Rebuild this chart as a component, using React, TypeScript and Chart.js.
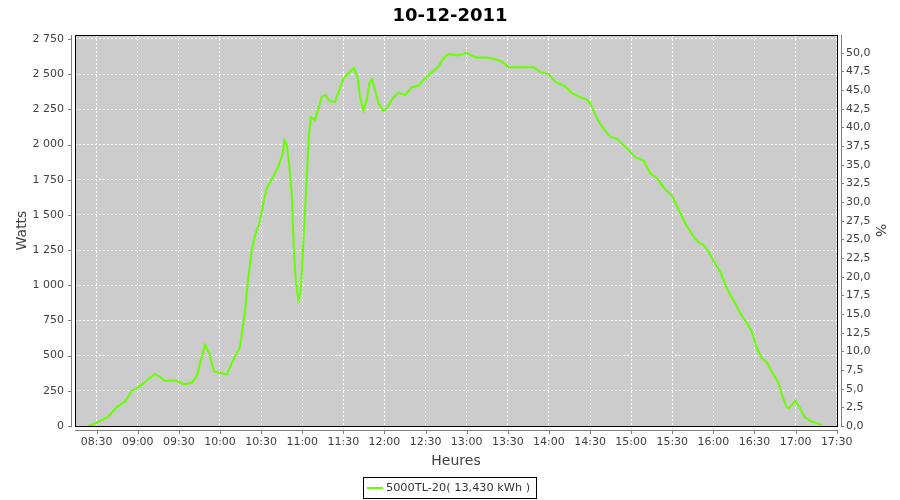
import React, { useEffect, useRef } from 'react';
import { Chart, registerables } from 'chart.js';

Chart.register(...registerables);

const chartTitle = '10-12-2011';
const seriesLabel = '5000TL-20( 13,430 kWh )';
const xAxisTitle = 'Heures';
const leftAxisTitle = 'Watts';
const rightAxisTitle = '%';
const seriesColor = '#66FF00';

const xTickLabels = ['08:30', '09:00', '09:30', '10:00', '10:30', '11:00', '11:30', '12:00', '12:30', '13:00', '13:30', '14:00', '14:30', '15:00', '15:30', '16:00', '16:30', '17:00', '17:30'];
const wattTicks = [0, 250, 500, 750, 1000, 1250, 1500, 1750, 2000, 2250, 2500, 2750];
const percentTicks = [0, 2.5, 5, 7.5, 10, 12.5, 15, 17.5, 20, 22.5, 25, 27.5, 30, 32.5, 35, 37.5, 40, 42.5, 45, 47.5, 50];

const xRange = [494.2, 1050.2];
const wattRange = [0, 2778];
const percentRange = [0, 52.37];

// sample times in minutes after midnight
const sampleMinutes = [
  503.9, 510.0, 518.5, 524.6, 530.7, 535.6, 540.4, 547.0, 552.6, 556.2,
  559.9, 567.2, 574.5, 579.4, 583.0, 586.7, 589.1, 592.2, 595.6, 599.5,
  604.9, 609.7, 614.6, 618.3, 620.7, 623.2, 625.6, 628.7, 631.6, 634.1,
  638.9, 642.6, 645.8, 647.0, 648.8, 650.7, 652.4, 653.1, 654.0, 655.5,
  657.2, 658.9, 660.4, 662.1, 663.3, 665.0, 666.3, 669.4, 671.8, 674.3,
  676.7, 680.4, 684.0, 687.1, 690.1, 695.0, 697.8, 700.2, 702.2, 704.6,
  707.1, 709.0, 710.8, 713.2, 715.6, 718.8, 721.7, 726.1, 730.2, 735.1,
  740.0, 744.8, 749.7, 754.6, 759.4, 763.1, 766.7, 772.8, 777.7, 780.2,
  783.8, 787.4, 794.7, 800.8, 805.7, 810.5, 828.8, 833.7, 839.8, 844.6,
  852.0, 856.8, 862.9, 867.8, 870.2, 872.6, 875.5, 880.4, 884.8, 889.7,
  895.7, 903.0, 909.1, 914.0, 918.9, 925.0, 929.9, 934.7, 940.8, 946.9,
  949.2, 952.8, 956.5, 959.0, 962.6, 965.0, 968.7, 972.3, 976.0, 979.6,
  984.5, 988.1, 991.8, 995.4, 999.1, 1002.7, 1007.6, 1010.0, 1013.2, 1014.9,
  1017.3, 1019.8, 1023.4, 1026.3, 1030.7, 1035.6, 1039.2,
];
const watts = [
  0, 23, 66, 133, 173, 251, 275, 327, 370, 350,
  320, 325, 296, 308, 350, 493, 576, 517, 386, 379,
  365, 470, 560, 824, 1061, 1251, 1357, 1440, 1583, 1689,
  1772, 1843, 1938, 2030, 2000, 1831, 1642, 1464, 1227, 1014,
  893, 954, 1227, 1535, 1772, 2080, 2194, 2175, 2258, 2340,
  2352, 2305, 2305, 2388, 2471, 2518, 2542, 2483, 2340, 2241,
  2317, 2436, 2464, 2388, 2293, 2241, 2258, 2329, 2369, 2352,
  2407, 2417, 2471, 2514, 2554, 2613, 2644, 2632, 2644, 2653,
  2630, 2618, 2618, 2606, 2589, 2549, 2549, 2514, 2500, 2447,
  2411, 2364, 2336, 2317, 2293, 2241, 2175, 2104, 2056, 2040,
  1985, 1910, 1886, 1796, 1760, 1680, 1636, 1535, 1417, 1327,
  1305, 1286, 1239, 1192, 1132, 1097, 1002, 931, 872, 801,
  730, 670, 552, 481, 450, 386, 303, 220, 137, 125,
  149, 180, 125, 66, 36, 19, 7,
];

const toMinutes = (s: string) => {
  const [h, m] = s.split(':').map(Number);
  return h * 60 + m;
};
const fmtTime = (v: number) => {
  const h = Math.floor(v / 60);
  const m = Math.round(v - h * 60);
  return String(h).padStart(2, '0') + ':' + String(m).padStart(2, '0');
};
const fmtWatts = (v: number) => String(Math.round(v)).replace(/\B(?=(\d{3})+(?!\d))/g, ' ');
const fmtPct = (v: number) => v.toFixed(1).replace('.', ',');

const TICK_FONT = { family: 'DejaVu Sans', size: 11 };
const TEXT_GREY = '#404040';
const AXIS_GREY = '#808080';

const framePlugin = {
  id: 'frame',
  beforeDraw(chart: any) {
    const { ctx, chartArea: a } = chart;
    ctx.save();
    ctx.fillStyle = '#CCCCCC';
    ctx.fillRect(a.left, a.top, a.right - a.left, a.bottom - a.top);
    ctx.restore();
  },
  afterDraw(chart: any) {
    const { ctx, chartArea: a, scales } = chart;
    ctx.save();
    // plot border
    ctx.strokeStyle = '#000000';
    ctx.lineWidth = 1;
    ctx.strokeRect(a.left + 0.5, a.top + 0.5, a.right - a.left, a.bottom - a.top);

    // offset axis lines
    ctx.strokeStyle = AXIS_GREY;
    ctx.beginPath();
    ctx.moveTo(a.left - 3.5, a.top);
    ctx.lineTo(a.left - 3.5, a.bottom + 1);
    ctx.moveTo(a.right + 4.5, a.top);
    ctx.lineTo(a.right + 4.5, a.bottom + 1);
    ctx.moveTo(a.left, a.bottom + 4.5);
    ctx.lineTo(a.right + 1, a.bottom + 4.5);
    // tick marks
    scales.y.ticks.forEach((t: any) => {
      const p = Math.round(scales.y.getPixelForValue(t.value)) + 0.5;
      ctx.moveTo(a.left - 7, p);
      ctx.lineTo(a.left - 3.5, p);
    });
    scales.y2.ticks.forEach((t: any) => {
      const p = Math.round(scales.y2.getPixelForValue(t.value)) + 0.5;
      ctx.moveTo(a.right + 4.5, p);
      ctx.lineTo(a.right + 7, p);
    });
    scales.x.ticks.forEach((t: any) => {
      const p = Math.round(scales.x.getPixelForValue(t.value)) + 0.5;
      ctx.moveTo(p, a.bottom + 4.5);
      ctx.lineTo(p, a.bottom + 8);
    });
    ctx.stroke();

    // chart title
    ctx.fillStyle = '#000000';
    ctx.font = 'bold 18px "DejaVu Sans"';
    ctx.textAlign = 'center';
    ctx.textBaseline = 'alphabetic';
    ctx.fillText(chartTitle, 450, 21);

    // axis titles
    ctx.fillStyle = TEXT_GREY;
    ctx.font = '14px "DejaVu Sans"';
    ctx.fillText(xAxisTitle, (a.left + a.right) / 2, 465);

    ctx.save();
    ctx.translate(26, (a.top + a.bottom) / 2);
    ctx.rotate(-Math.PI / 2);
    ctx.fillText(leftAxisTitle, 0, 0);
    ctx.restore();

    ctx.save();
    ctx.translate(880, (a.top + a.bottom) / 2);
    ctx.rotate(Math.PI / 2);
    ctx.textBaseline = 'middle';
    ctx.fillText(rightAxisTitle, 0, 0);
    ctx.restore();

    // legend
    const ds = chart.data.datasets[0];
    ctx.font = '11.3px "DejaVu Sans"';
    const tw = ctx.measureText(ds.label).width;
    const boxW = 4 + 16 + 3 + tw + 6;
    const boxL = Math.round(450 - boxW / 2);
    const boxT = 477;
    const boxH = 21;
    ctx.strokeStyle = '#000000';
    ctx.strokeRect(boxL + 0.5, boxT + 0.5, Math.round(boxW), boxH);
    ctx.strokeStyle = ds.borderColor;
    ctx.lineWidth = 2;
    ctx.beginPath();
    ctx.moveTo(boxL + 4, boxT + 11);
    ctx.lineTo(boxL + 20, boxT + 11);
    ctx.stroke();
    ctx.fillStyle = '#333333';
    ctx.textAlign = 'left';
    ctx.textBaseline = 'middle';
    ctx.fillText(ds.label, boxL + 23, boxT + 11);
    ctx.restore();
  },
};

export default function App() {
  const ref = useRef<HTMLCanvasElement>(null);
  useEffect(() => {
    document.body.style.margin = '0';
    const canvas = ref.current!;
    const chart = new Chart(canvas, {
      type: 'line',
      data: {
        datasets: [
          {
            label: seriesLabel,
            data: sampleMinutes.map((m, i) => ({ x: m, y: watts[i] })),
            borderColor: seriesColor,
            backgroundColor: seriesColor,
            borderWidth: 2,
            pointRadius: 0,
            tension: 0,
            fill: false,
            xAxisID: 'x',
            yAxisID: 'y',
          },
        ],
      },
      options: {
        animation: false,
        responsive: false,
        devicePixelRatio: 1,
        events: [],
        layout: { padding: { top: 35, left: 0, right: 0, bottom: 0 } },
        plugins: {
          legend: { display: false },
          title: { display: false },
          tooltip: { enabled: false },
        },
        scales: {
          x: {
            type: 'linear',
            position: 'bottom',
            min: xRange[0],
            max: xRange[1],
            afterFit: (s: any) => { s.height = 74; },
            afterBuildTicks: (s: any) => { s.ticks = xTickLabels.map((l) => ({ value: toMinutes(l) })); },
            grid: { color: '#FFFFFF', drawTicks: false, lineWidth: 1 },
            border: { display: false, dash: [2, 2] },
            ticks: {
              padding: 10,
              color: TEXT_GREY,
              font: TICK_FONT,
              maxRotation: 0,
              autoSkip: false,
              callback: (v: any) => fmtTime(Number(v)),
            },
          },
          y: {
            type: 'linear',
            position: 'left',
            min: wattRange[0],
            max: wattRange[1],
            afterFit: (s: any) => { s.width = 75; },
            afterBuildTicks: (s: any) => { s.ticks = wattTicks.map((v) => ({ value: v })); },
            grid: { color: '#FFFFFF', drawTicks: false, lineWidth: 1 },
            border: { display: false, dash: [2, 2] },
            ticks: {
              padding: 11,
              color: TEXT_GREY,
              font: TICK_FONT,
              autoSkip: false,
              callback: (v: any) => fmtWatts(Number(v)),
            },
          },
          y2: {
            type: 'linear',
            position: 'right',
            min: percentRange[0],
            max: percentRange[1],
            afterFit: (s: any) => { s.width = 63; },
            afterBuildTicks: (s: any) => { s.ticks = percentTicks.map((v) => ({ value: v })); },
            grid: { display: false, drawOnChartArea: false, drawTicks: false },
            border: { display: false },
            ticks: {
              padding: 9,
              color: TEXT_GREY,
              font: TICK_FONT,
              autoSkip: false,
              callback: (v: any) => fmtPct(Number(v)),
            },
          },
        },
      } as any,
      plugins: [framePlugin],
    });
    return () => chart.destroy();
  }, []);
  return (
    <div style={{ width: 900, height: 500 }}>
      <canvas ref={ref} width={900} height={500} style={{ display: 'block', width: 900, height: 500 }} />
    </div>
  );
}
